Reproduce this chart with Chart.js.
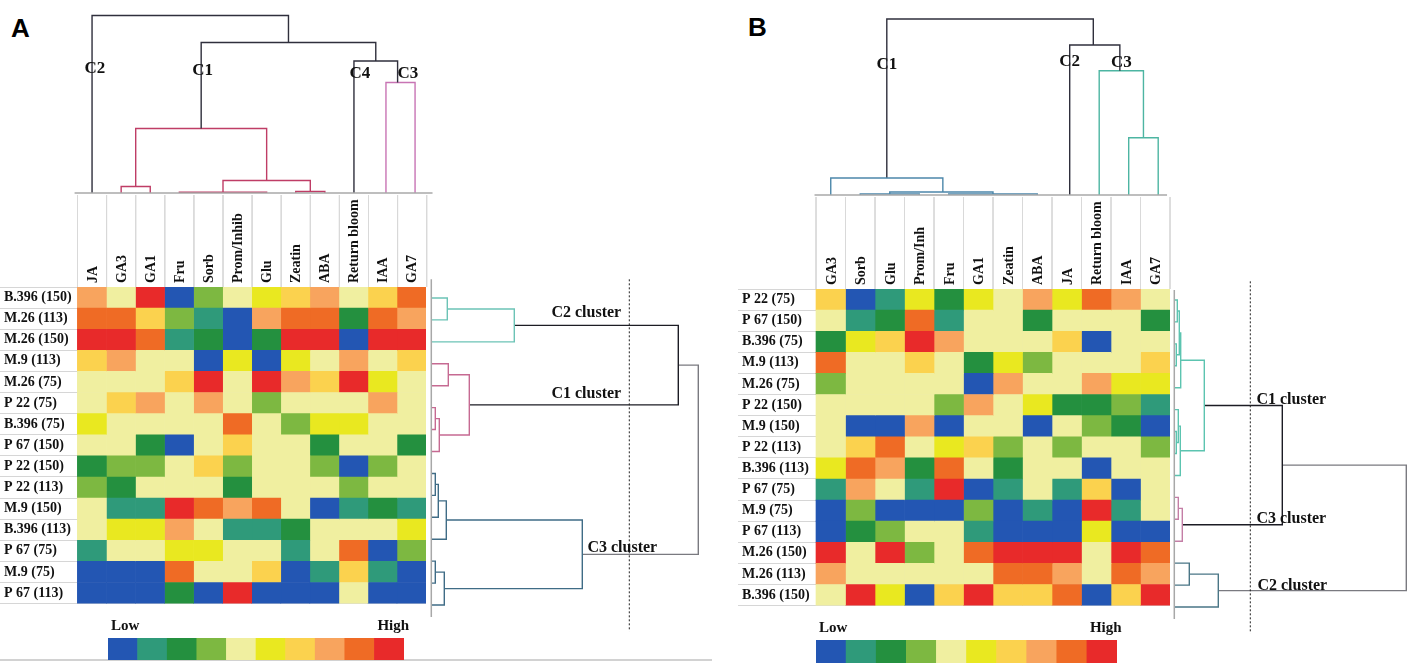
<!DOCTYPE html>
<html>
<head>
<meta charset="utf-8">
<script src="https://cdn.jsdelivr.net/npm/chart.js@4.4.1/dist/chart.umd.min.js"></script>
<style>
  body { margin: 0; background: #fff; }
  #page { position: relative; width: 1419px; height: 663px; overflow: hidden; background: #fff; }
  #page canvas { position: absolute; }
  .letter { position: absolute; font: bold 26px "Liberation Sans", Arial, sans-serif; color: #000; line-height: 1; }
  #bottomLineA { position: absolute; left: 0; top: 659px; width: 712px; height: 2px; background: #d2d2d2; }
</style>
</head>
<body>
<div id="page">
  <div class="letter" style="left:11px;top:15px;">A</div>
  <div class="letter" style="left:748px;top:14px;">B</div>
  <div id="bottomLineA"></div>
  <canvas id="topA"></canvas>
  <canvas id="heatA"></canvas>
  <canvas id="rightA"></canvas>
  <canvas id="legA"></canvas>
  <canvas id="topB"></canvas>
  <canvas id="heatB"></canvas>
  <canvas id="rightB"></canvas>
  <canvas id="legB"></canvas>
</div>
<script>
// colour levels, low -> high
const palette = ['#2356b3', '#2f9a7a', '#24903f', '#7db841', '#f0efa0', '#e9e820', '#fbd24e', '#f8a45e', '#ef6b25', '#e82a2a'];
const legendLevels = [0, 1, 2, 3, 4, 5, 6, 7, 8, 9];
const legendText = ['Low', '', '', '', '', '', '', '', '', 'High'];

// Panel A
const rowsA = ['B.396 (150)', 'M.26 (113)', 'M.26 (150)', 'M.9 (113)', 'M.26 (75)', 'P 22 (75)', 'B.396 (75)', 'P 67 (150)',
    'P 22 (150)', 'P 22 (113)', 'M.9 (150)', 'B.396 (113)', 'P 67 (75)', 'M.9 (75)', 'P 67 (113)'];
const colsA = ['JA', 'GA3', 'GA1', 'Fru', 'Sorb', 'Prom/Inhib', 'Glu', 'Zeatin', 'ABA', 'Return bloom', 'IAA', 'GA7'];
const heatA = [
    [7, 4, 9, 0, 3, 4, 5, 6, 7, 4, 6, 8],
    [8, 8, 6, 3, 1, 0, 7, 8, 8, 2, 8, 7],
    [9, 9, 8, 1, 2, 0, 2, 9, 9, 0, 9, 9],
    [6, 7, 4, 4, 0, 5, 0, 5, 4, 7, 4, 6],
    [4, 4, 4, 6, 9, 4, 9, 7, 6, 9, 5, 4],
    [4, 6, 7, 4, 7, 4, 3, 4, 4, 4, 7, 4],
    [5, 4, 4, 4, 4, 8, 4, 3, 5, 5, 4, 4],
    [4, 4, 2, 0, 4, 6, 4, 4, 2, 4, 4, 2],
    [2, 3, 3, 4, 6, 3, 4, 4, 3, 0, 3, 4],
    [3, 2, 4, 4, 4, 2, 4, 4, 4, 3, 4, 4],
    [4, 1, 1, 9, 8, 7, 8, 4, 0, 1, 2, 1],
    [4, 5, 5, 7, 4, 1, 1, 2, 4, 4, 4, 5],
    [1, 4, 4, 5, 5, 4, 4, 1, 4, 8, 0, 3],
    [0, 0, 0, 8, 4, 4, 6, 0, 1, 6, 1, 0],
    [0, 0, 0, 2, 0, 9, 0, 0, 0, 4, 0, 0]
];
// dendrogram links: [posA, posB, heightA, heightB, mergeHeight]
const topA_black = [[0.5, 7.25, 0, 150.5, 177.5], [4.25, 10.25, 64.5, 132, 150.5], [9.5, 11.0, 0, 110.5, 132]];
const topA_pink = [[1.5, 2.5, 0, 0, 6.5], [3.5, 6.5, 0, 0, 0.8], [7.5, 8.5, 0, 0, 1.5], [5.0, 8.0, 0.8, 1.5, 12.5], [2.0, 6.5, 6.5, 12.5, 64.5]];
const topA_c3 = [[10.6, 11.6, 0, 0, 110.5]];
const topA_marks = [['C2', 0.6, 124.5], ['C1', 4.3, 122.5], ['C4', 9.7, 119.5], ['C3', 11.35, 119.5]];
const rightA_c2 = [[0.5, 1.5, 0, 0, 16], [1.0, 2.5, 16, 0, 83]];
const rightA_c1 = [[3.5, 4.5, 0, 0, 17], [5.5, 6.5, 0, 0, 4], [6.0, 7.5, 4, 0, 8], [4.0, 6.75, 17, 8, 38]];
const rightA_c3 = [[8.5, 9.5, 0, 0, 4], [9.0, 10.5, 4, 0, 7], [9.75, 11.5, 7, 0, 15], [12.5, 13.5, 0, 0, 4], [13.0, 14.5, 4, 0, 13], [10.625, 13.75, 15, 13, 151]];
const rightA_black = [[1.75, 5.375, 83, 38, 247]];
const rightA_gray = [[3.56, 12.19, 247, 151, 267]];
const rightA_marks = [['C2 cluster', 155, 1.2], ['C1 cluster', 155, 4.85], ['C3 cluster', 191, 11.9]];
const cutA = 198;

// Panel B
const rowsB = ['P 22 (75)', 'P 67 (150)', 'B.396 (75)', 'M.9 (113)', 'M.26 (75)', 'P 22 (150)', 'M.9 (150)', 'P 22 (113)',
    'B.396 (113)', 'P 67 (75)', 'M.9 (75)', 'P 67 (113)', 'M.26 (150)', 'M.26 (113)', 'B.396 (150)'];
const colsB = ['GA3', 'Sorb', 'Glu', 'Prom/Inh', 'Fru', 'GA1', 'Zeatin', 'ABA', 'JA', 'Return bloom', 'IAA', 'GA7'];
const heatB = [
    [6, 0, 1, 5, 2, 5, 4, 7, 5, 8, 7, 4],
    [4, 1, 2, 8, 1, 4, 4, 2, 4, 4, 4, 2],
    [2, 5, 6, 9, 7, 4, 4, 4, 6, 0, 4, 4],
    [8, 4, 4, 6, 4, 2, 5, 3, 4, 4, 4, 6],
    [3, 4, 4, 4, 4, 0, 7, 4, 4, 7, 5, 5],
    [4, 4, 4, 4, 3, 7, 4, 5, 2, 2, 3, 1],
    [4, 0, 0, 7, 0, 4, 4, 0, 4, 3, 2, 0],
    [4, 6, 8, 4, 5, 6, 3, 4, 3, 4, 4, 3],
    [5, 8, 7, 2, 8, 4, 2, 4, 4, 0, 4, 4],
    [1, 7, 4, 1, 9, 0, 1, 4, 1, 6, 0, 4],
    [0, 3, 0, 0, 0, 3, 0, 1, 0, 9, 1, 4],
    [0, 2, 3, 4, 4, 1, 0, 0, 0, 5, 0, 0],
    [9, 4, 9, 3, 4, 8, 9, 9, 9, 4, 9, 8],
    [7, 4, 4, 4, 4, 4, 8, 8, 7, 4, 8, 7],
    [4, 9, 5, 0, 6, 9, 6, 6, 8, 0, 6, 9]
];
const topB_black = [[2.4, 9.4, 17, 150, 176], [8.6, 10.3, 0, 124.3, 150]];
const topB_c1 = [[1.5, 3.5, 0, 0, 1], [4.5, 7.5, 0, 0, 1], [2.5, 6.0, 1, 1, 3], [0.5, 4.3, 0, 3, 17]];
const topB_c3 = [[10.6, 11.6, 0, 0, 57.3], [9.6, 11.1, 0, 57.3, 124.3]];
const topB_marks = [['C1', 2.4, 130], ['C2', 8.6, 133], ['C3', 10.35, 132]];
const rightB_c1 = [[0.5, 1.5, 0, 0, 3], [2.5, 3.5, 0, 0, 2], [1.0, 3.0, 3, 2, 5], [2.0, 4.5, 5, 0, 6.4],
    [6.5, 7.5, 0, 0, 2], [5.5, 7.0, 0, 2, 4], [6.25, 8.5, 4, 0, 6], [3.25, 7.375, 6.4, 6, 30]];
const rightB_c3 = [[9.5, 10.5, 0, 0, 4], [10.0, 11.5, 4, 0, 8]];
const rightB_c2 = [[12.5, 13.5, 0, 0, 15], [13.0, 14.5, 15, 0, 44]];
const rightB_black = [[5.31, 10.75, 30, 8, 108]];
const rightB_gray = [[8.03, 13.75, 108, 44, 232]];
const rightB_marks = [['C1 cluster', 117, 5.05], ['C3 cluster', 117, 10.5], ['C2 cluster', 118, 13.55]];
const cutB = 76;

Chart.defaults.font.family = '"Liberation Serif", "Times New Roman", serif';
Chart.defaults.color = '#111';

// text labels placed through the chart scales
const textMarks = {
    id: 'textMarks',
    afterDatasetsDraw(chart, args, opts) {
        const ctx = chart.ctx;
        ctx.save();
        ctx.font = opts.font;
        ctx.fillStyle = '#111';
        ctx.textAlign = 'center';
        ctx.textBaseline = 'middle';
        (opts.items || []).forEach(([text, x, y]) => {
            ctx.fillText(text, chart.scales.x.getPixelForValue(x), chart.scales.y.getPixelForValue(y));
        });
        ctx.restore();
    }
};

function place(id, left, top, w, h) {
    const c = document.getElementById(id);
    c.width = w; c.height = h;
    c.style.left = left + 'px'; c.style.top = top + 'px';
    return c;
}

// no extra side padding for overhanging tick labels
function noPad(s) {
    s.paddingLeft = 0; s.paddingRight = 0;
}

function linkPoints(links, orient) {
    const pts = [];
    links.forEach(([pa, pb, ha, hb, h]) => {
        [[pa, ha], [pa, h], [pb, h], [pb, hb]].forEach(([p, v]) => {
            pts.push(orient === 'top' ? { x: p, y: v } : { x: v, y: p });
        });
        pts.push({ x: null, y: null });
    });
    return pts;
}

function lineSet(points, color, width, dash) {
    return {
        data: points, showLine: true, borderColor: color, borderWidth: width,
        borderDash: dash || [], pointRadius: 0, fill: false, spanGaps: false, tension: 0
    };
}

function makeLines(canvas, datasets, xr, yr, reverseY, marks, font) {
    return new Chart(canvas, {
        type: 'scatter',
        data: { datasets: datasets },
        plugins: [textMarks],
        options: {
            responsive: false, animation: false,
            layout: { padding: 0 },
            plugins: {
                legend: { display: false }, tooltip: { enabled: false },
                textMarks: { items: marks, font: font }
            },
            scales: {
                x: { type: 'linear', display: false, min: xr[0], max: xr[1] },
                y: { type: 'linear', display: false, min: yr[0], max: yr[1], reverse: reverseY }
            }
        }
    });
}

function makeHeat(canvas, rows, cols, values, xmin, headH) {
    return new Chart(canvas, {
        type: 'bar',
        data: {
            labels: rows,
            datasets: cols.map((c, ci) => ({
                label: c,
                data: rows.map(() => 1),
                backgroundColor: rows.map((r, ri) => palette[values[ri][ci]]),
                borderWidth: 0,
                barPercentage: 1,
                categoryPercentage: 1
            }))
        },
        options: {
            indexAxis: 'y',
            responsive: false, animation: false,
            layout: { padding: 0 },
            plugins: { legend: { display: false }, tooltip: { enabled: false } },
            scales: {
                x: {
                    type: 'linear', position: 'top', stacked: true, min: xmin, max: cols.length,
                    grid: { display: false, drawTicks: false }, border: { display: false },
                    afterBuildTicks: s => { s.ticks = cols.map((c, i) => ({ value: i + 0.5 })); },
                    afterFit: s => { s.height = headH; noPad(s); },
                    ticks: {
                        autoSkip: false, minRotation: 90, maxRotation: 90, padding: 4, labelOffset: 18,
                        font: { size: 14, weight: 'bold' },
                        callback: (v, i) => cols[i]
                    }
                },
                y: {
                    stacked: true,
                    grid: { color: '#d6d6d6', drawTicks: false }, border: { display: false },
                    afterFit: s => { s.width = 0; },
                    ticks: { mirror: true, padding: 4, font: { size: 14, weight: 'bold' } }
                }
            }
        }
    });
}

function makeLegend(canvas, headH, cellW, overhang) {
    return new Chart(canvas, {
        type: 'bar',
        data: {
            labels: legendText,
            datasets: [{
                data: legendLevels.map(() => 1),
                backgroundColor: legendLevels.map(l => palette[l]),
                borderWidth: 0, barPercentage: 1, categoryPercentage: 1
            }]
        },
        options: {
            responsive: false, animation: false,
            layout: { padding: { left: 0, top: 0, bottom: 0, right: overhang } },
            plugins: { legend: { display: false }, tooltip: { enabled: false } },
            scales: {
                x: {
                    position: 'top', grid: { display: false, drawTicks: false }, border: { display: false },
                    afterFit: s => { s.height = headH; noPad(s); },
                    ticks: { autoSkip: false, maxRotation: 0, align: 'start', labelOffset: -cellW / 2 + 3, padding: 3, font: { size: 15, weight: 'bold' } }
                },
                y: { display: false, min: 0, max: 1 }
            }
        }
    });
}

function headerLines(n, depth) {
    const pts = [];
    for (let b = 0; b <= n; b++) {
        pts.push({ x: b, y: -2 }, { x: b, y: -depth }, { x: null, y: null });
    }
    return pts;
}

function buildPanel(g) {
    const rowH = (g.heatBottom - g.heatTop) / g.rows.length;
    const nCols = g.cols.length;

    // column dendrogram + label boxes
    const topDepth = g.heatTop - g.base;
    makeLines(place(g.ids[0], g.left, 0, g.topRight - g.left, g.heatTop), [
        lineSet(headerLines(nCols, topDepth), '#d9d9d9', 1),
        lineSet([{ x: g.baseFrom, y: 0 }, { x: g.baseTo, y: 0 }], '#a8a8a8', 1.5),
        ...g.topSets.map(([links, color]) => lineSet(linkPoints(links, 'top'), color, 1.4))
    ], [(g.left - g.heatLeft) / g.cellW, (g.topRight - g.heatLeft) / g.cellW], [-topDepth, g.base], false,
        g.topMarks, 'bold 17px "Liberation Serif", serif');

    // heatmap
    makeHeat(place(g.ids[1], g.left, g.heatTop - 97, g.heatLeft + nCols * g.cellW - g.left, g.heatBottom - g.heatTop + 97),
        g.rows, g.cols, g.values, (g.left - g.heatLeft) / g.cellW, 97);

    // row dendrogram
    const rl = g.heatLeft + nCols * g.cellW;
    makeLines(place(g.ids[2], rl, 270, g.rightW, 370), [
        lineSet([{ x: 0, y: g.baseRow0 }, { x: 0, y: 15.05 }], '#a8a8a8', 1.5),
        lineSet([{ x: g.cut, y: -0.35 }, { x: g.cut, y: 15.7 }], '#222', 1, [2, 2]),
        ...g.rightSets.map(([links, color]) => lineSet(linkPoints(links, 'right'), color, 1.4))
    ], [rl - g.rightOrigin, rl + g.rightW - g.rightOrigin], [(270 - g.heatTop) / rowH, (640 - g.heatTop) / rowH], true,
        g.rightMarks, 'bold 16px "Liberation Serif", serif');

    // colour key
    const overhang = 16;
    makeLegend(place(g.ids[3], g.legLeft, g.legTop, 10 * g.legCell + overhang, g.legBottom - g.legTop),
        g.legBar - g.legTop, g.legCell, overhang);
}

buildPanel({
    ids: ['topA', 'heatA', 'rightA', 'legA'],
    rows: rowsA, cols: colsA, values: heatA,
    left: 0, topRight: 440, heatLeft: 77.5, cellW: 29.1, heatTop: 287, heatBottom: 616, base: 193,
    baseFrom: -0.1, baseTo: 12.2,
    topSets: [[topA_black, '#2f2f3c'], [topA_pink, '#bf3d66'], [topA_c3, '#c874b4']],
    topMarks: topA_marks,
    rightW: 294, rightOrigin: 431, baseRow0: -0.35, cut: cutA,
    rightSets: [[rightA_c2, '#6cc3b6'], [rightA_c1, '#c66a92'], [rightA_c3, '#3f6c86'], [rightA_black, '#1c1c24'], [rightA_gray, '#7a7a80']],
    rightMarks: rightA_marks,
    legLeft: 108, legTop: 616, legBar: 638, legBottom: 660, legCell: 29.6
});

buildPanel({
    ids: ['topB', 'heatB', 'rightB', 'legB'],
    rows: rowsB, cols: colsB, values: heatB,
    left: 738, topRight: 1180, heatLeft: 816, cellW: 29.5, heatTop: 289, heatBottom: 618, base: 195,
    baseFrom: -0.05, baseTo: 11.9,
    topSets: [[topB_c1, '#4c87aa'], [topB_black, '#2f2f3c'], [topB_c3, '#4db5a2']],
    topMarks: topB_marks,
    rightW: 249, rightOrigin: 1174.3, baseRow0: 0.05, cut: cutB,
    rightSets: [[rightB_c1, '#5cc4b0'], [rightB_c3, '#c47ea6'], [rightB_c2, '#4a7686'], [rightB_black, '#1c1c24'], [rightB_gray, '#7a7a80']],
    rightMarks: rightB_marks,
    legLeft: 816, legTop: 618, legBar: 640, legBottom: 663, legCell: 30.1
});
</script>
</body>
</html>
